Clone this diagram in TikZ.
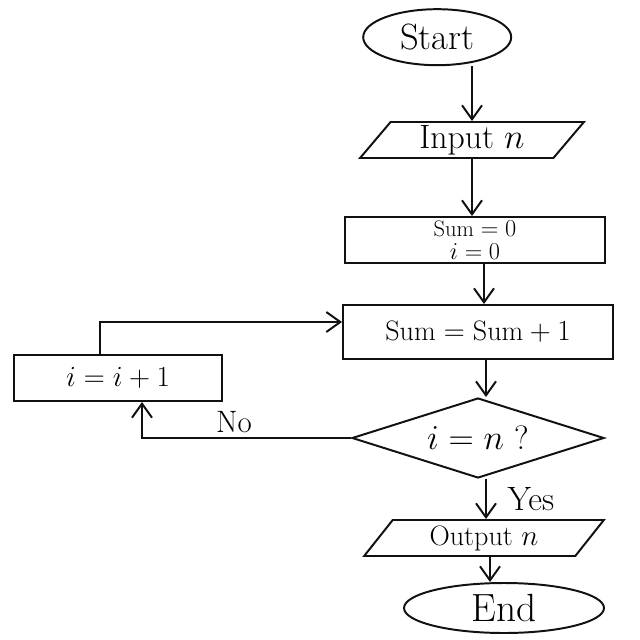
\documentclass[tikz,border=0pt]{standalone}
\usepackage{amsmath,amssymb}
\usepackage{tikz}
\usetikzlibrary{arrows.meta,positioning,calc,shapes.geometric}
\definecolor{ink}{HTML}{111111}
\newcommand{\fsz}[1]{\fontsize{#1}{#1}\selectfont}

\begin{document}
\begin{tikzpicture}[line width=1.4pt,draw=ink,
    >={Straight Barb[length=3.5mm,width=5mm]},
    term/.style={draw,ellipse,minimum width=#1,minimum height=1.4cm,inner sep=0pt,font=\fsz{26}},
    io/.style={draw,trapezium,trapezium left angle=58,trapezium right angle=122,
      trapezium stretches=true,minimum width=5.6cm,minimum height=0.9cm,inner sep=1pt,font=\fsz{24}},
    procbox/.style={draw,rectangle,minimum width=#1,minimum height=1.15cm,inner sep=1pt},
    test/.style={draw,diamond,aspect=3.1,minimum width=6.3cm,minimum height=2cm,inner sep=0pt,font=\fsz{24}}]
  \useasboundingbox (0,0) rectangle (16,-16);
  \node[term=3.7cm] (start) at (10.93,-0.93) {Start};
  \node[io] (input) at (11.8,-3.5) {Input $n$};
  \node[procbox=6.5cm,align=center,font=\fontsize{16}{16}\selectfont] (init) at (11.875,-6.0) {Sum $= 0$\\$i = 0$};
  \node[procbox=6.75cm,minimum height=1.35cm,font=\fsz{20}] (add) at (11.95,-8.3) {$\text{Sum} = \text{Sum} + 1$};
  \node[test] (check) at (11.95,-10.95) {$i = n$ ?};
  \node[procbox=5.2cm,font=\fsz{21}] (incr) at (2.95,-9.45) {$i = i + 1$};
  \node[io,minimum width=6cm,font=\fsz{20}] (output) at (12.1,-13.45) {Output $n$};
  \node[term=5cm,minimum height=1.25cm,font=\fsz{28}] (stop) at (12.6,-15.2) {End};

  \draw[->] (start.south -| input.north) -- (input.north);
  \draw[->] (input.south -| 11.8,0) -- (init.north -| 11.8,0);
  \draw[->] (init.south -| 12.1,0) -- (add.north -| 12.1,0);
  \draw[->] (add.south -| 12.15,0) -- (check.north -| 12.15,0);
  \draw[->] (check.west) -| ([xshift=0.6cm]incr.south)
    node[pos=0.28,above,font=\fsz{22}]{No};
  \draw[->] ([xshift=-0.45cm]incr.north) |- ([yshift=0.25cm]add.west);
  \draw[->] (check.south -| 12.15,0) -- (output.north -| 12.15,0)
    node[midway,right=4mm,font=\fsz{24}]{Yes};
  \draw[->] (output.south -| 12.25,0) -- (stop.north -| 12.25,0);
\end{tikzpicture}
\end{document}
